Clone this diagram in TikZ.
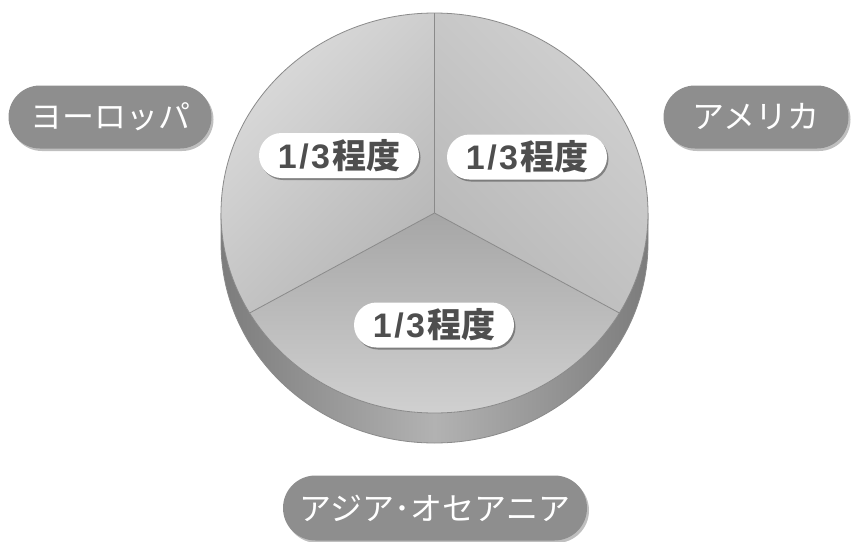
\documentclass[tikz,border=0pt]{standalone}
\usepackage{fontspec}
\newfontfamily\jp{Noto Sans CJK JP}
\newfontfamily\numfont{Liberation Sans}
\newcommand{\third}{{\numfont\bfseries 1\kern2.5pt/\kern2.5pt3}\kern2pt 程度}
\usetikzlibrary{shapes.misc,shadows}
\definecolor{pillgray}{HTML}{8E8E8E}
\definecolor{inktext}{HTML}{4E4E4E}
\definecolor{edgegray}{HTML}{8A8A8A}
\definecolor{banddark}{HTML}{7C7C7C}
\definecolor{bandlight}{HTML}{B2B2B2}
\definecolor{secA}{HTML}{DCDCDC}
\definecolor{secB}{HTML}{B6B6B6}
\definecolor{secC}{HTML}{A6A6A6}
\definecolor{secD}{HTML}{D6D6D6}
\tikzset{
  inpill/.style={rounded rectangle, fill=white, text=inktext,
    font=\jp\bfseries\fontsize{34}{34}\selectfont,
    minimum width=160pt, minimum height=45pt, inner sep=0pt,
    drop shadow={shadow xshift=1.5pt, shadow yshift=-2pt, opacity=0.35, fill=black}},
  outpill/.style={rounded rectangle, fill=pillgray, text=white,
    font=\jp\fontsize{32}{32}\selectfont,
    minimum height=63pt, inner sep=0pt,
    drop shadow={shadow xshift=2pt, shadow yshift=-2.5pt, opacity=0.25, fill=black}},
  edge line/.style={draw=edgegray, line width=0.8pt}
}
\begin{document}
\begin{tikzpicture}[x=1pt,y=1pt]
\useasboundingbox (0,0) rectangle (851,-541);
\coordinate (C) at (434.5,-213);
\coordinate (T) at (434.5,-13);
\coordinate (L) at (249.6,-313);
\coordinate (R) at (619.4,-313);
% side band
\shade[left color=banddark, right color=banddark, middle color=bandlight]
  (221,-213) -- (221,-243)
  arc[start angle=180, end angle=360, x radius=213.5, y radius=200]
  -- (648,-213)
  arc[start angle=0, end angle=-180, x radius=213.5, y radius=200] -- cycle;
\draw[edge line] (221,-213) -- (221,-243)
  arc[start angle=180, end angle=360, x radius=213.5, y radius=200]
  -- (648,-213);
% sectors
\shade[top color=secA, bottom color=secB, shading angle=45]
  (C) -- (T)
  arc[start angle=90, end angle=210, x radius=213.5, y radius=200] -- cycle;
\shade[top color=secA!95!black, bottom color=secB!97!white, shading angle=-45]
  (C) -- (T)
  arc[start angle=90, end angle=-30, x radius=213.5, y radius=200] -- cycle;
\shade[top color=secC, bottom color=secD]
  (C) -- (L)
  arc[start angle=210, end angle=330, x radius=213.5, y radius=200] -- cycle;
% outlines
\draw[edge line] (C) ellipse[x radius=213.5, y radius=200];
\draw[edge line] (C) -- (T);
\draw[edge line] (C) -- (L);
\draw[edge line] (C) -- (R);
% labels
\node[inpill] (pl) at (339,-155.5) {\third};
\node[inpill] (pr) at (527,-157) {\third};
\node[inpill] (pb) at (434,-325) {\third};
\node[outpill, minimum width=203pt] (eu) at (110,-117) {ヨーロッパ};
\node[outpill, minimum width=185pt] (am) at (756,-117) {アメリカ};
\node[outpill, minimum width=304pt, minimum height=65pt] (as) at (435,-508) {アジア･オセアニア};
\end{tikzpicture}
\end{document}
